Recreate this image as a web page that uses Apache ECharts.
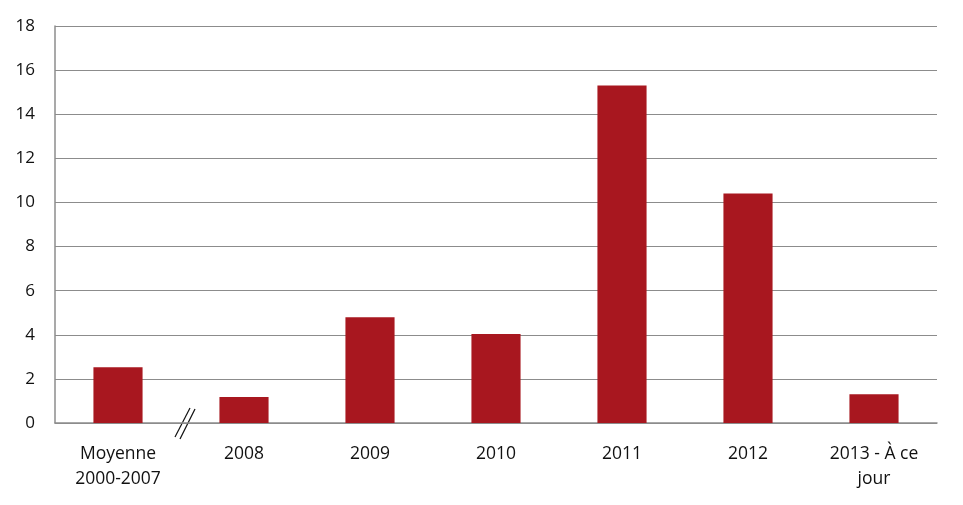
<!DOCTYPE html>
<html><head><meta charset="utf-8">
<script src="https://cdn.jsdelivr.net/npm/echarts@6/dist/echarts.min.js"></script>
<style>html,body{margin:0;padding:0;background:#fff}#c{width:963px;height:505px}</style>
</head><body><div id="c"></div>
<script>
var categories = ['Moyenne\n2000-2007', '2008', '2009', '2010', '2011', '2012', '2013 - À ce\njour'];
var values = [2.53, 1.18, 4.8, 4.03, 15.3, 10.4, 1.3];
var yTicks = [0, 2, 4, 6, 8, 10, 12, 14, 16, 18];

var chart = echarts.init(document.getElementById('c'));
var font = 'Open Sans, Liberation Sans, sans-serif';
chart.setOption({
  animation: false,
  grid: {left: 55, right: 26, top: 26, bottom: 82},
  xAxis: {
    type: 'category', data: categories,
    axisLine: {lineStyle: {color: '#8c8c8c', width: 1.5}},
    axisTick: {show: false},
    axisLabel: {color: '#111', fontSize: 17.5, fontFamily: font, margin: 19, lineHeight: 25, interval: 0}
  },
  yAxis: {
    type: 'value', min: yTicks[0], max: yTicks[yTicks.length - 1], interval: 2,
    axisLine: {show: true, lineStyle: {color: '#8c8c8c', width: 1.5}},
    axisTick: {show: false},
    axisLabel: {color: '#111', fontSize: 17, fontFamily: font, margin: 20},
    splitLine: {lineStyle: {color: '#8c8c8c', width: 1.2}}
  },
  series: [{
    type: 'bar', data: values, barWidth: '39%',
    itemStyle: {color: '#A8171F'}
  }]
});
var p0 = chart.convertToPixel({gridIndex: 0}, [0, 0]);
var p1 = chart.convertToPixel({gridIndex: 0}, [1, 0]);
var bx = (p0[0] + p1[0]) / 2 + 4, by = p0[1];
chart.setOption({
  graphic: [
    {type: 'line', shape: {x1: bx - 10, y1: by + 14, x2: bx + 5, y2: by - 15}, style: {stroke: '#111', lineWidth: 1.2}},
    {type: 'line', shape: {x1: bx - 5, y1: by + 16, x2: bx + 10, y2: by - 14}, style: {stroke: '#111', lineWidth: 1.2}}
  ]
});
</script></body></html>
